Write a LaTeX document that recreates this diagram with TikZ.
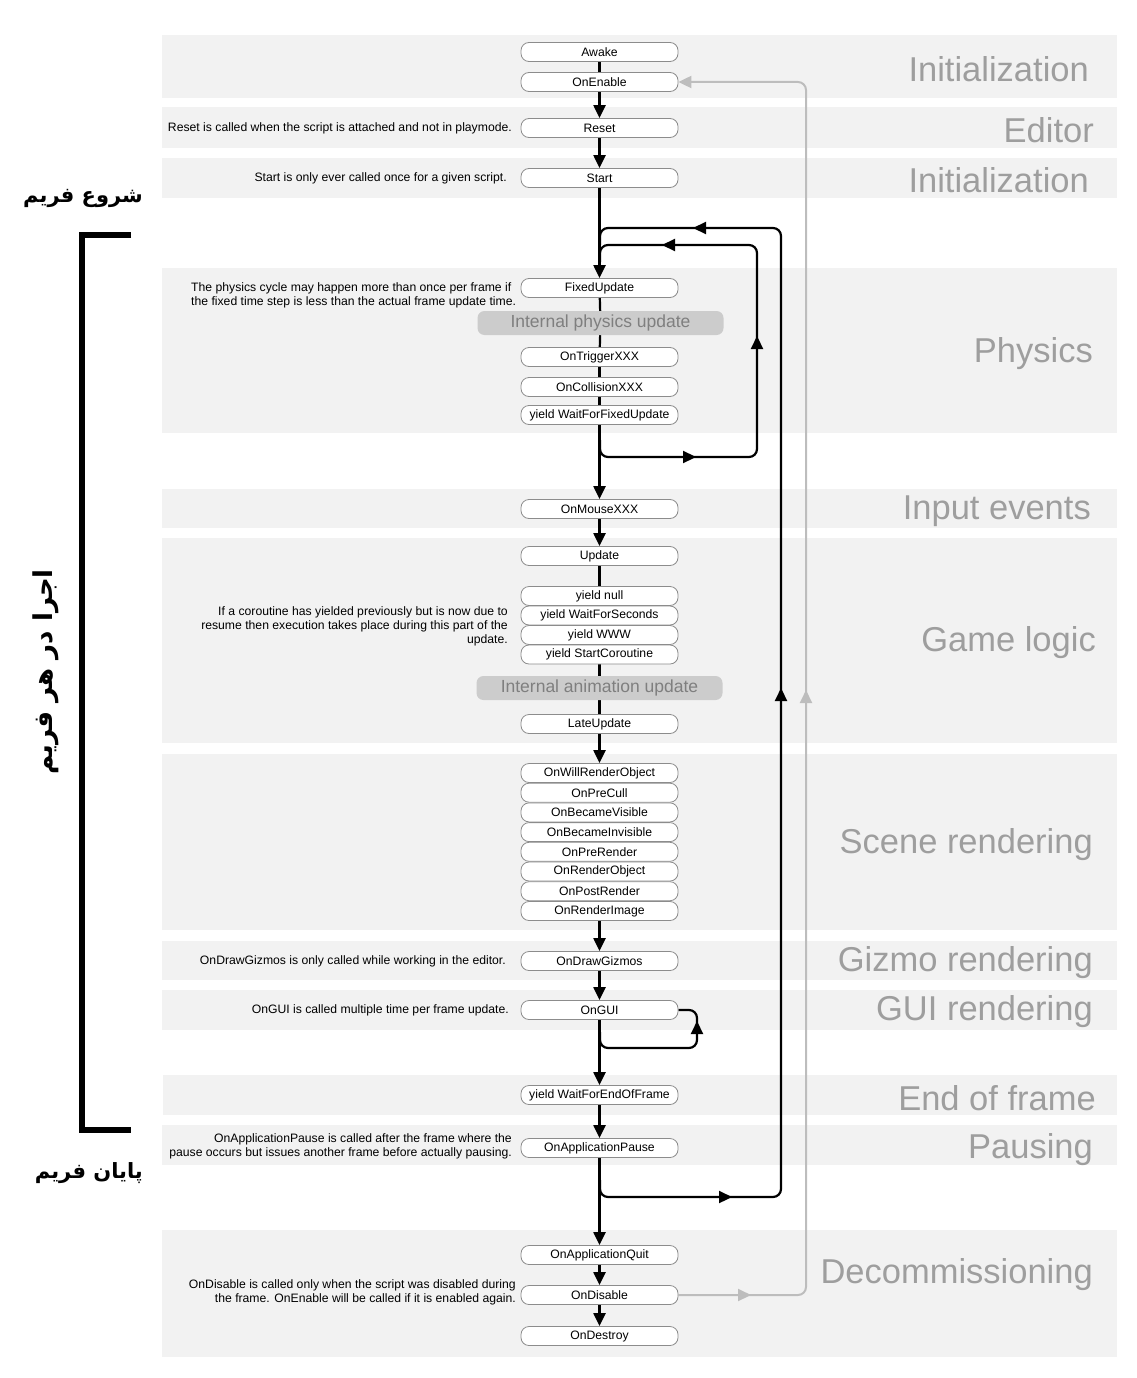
\documentclass[tikz,border=0pt]{standalone}
\usepackage{fontspec}
\setmainfont{Liberation Sans}
\newfontfamily\arabicfont[Script=Arabic]{DejaVu Sans}
\TeXXeTstate=1
\usetikzlibrary{arrows.meta}
\definecolor{bandgray}{HTML}{F2F2F2}
\definecolor{nodeborder}{HTML}{8C8C8C}
\definecolor{intgray}{HTML}{CCCCCC}
\definecolor{inttext}{HTML}{7F7F7F}
\definecolor{secttext}{HTML}{9E9E9E}
\definecolor{loopgray}{HTML}{BDBDBD}
\pgfdeclarelayer{bands}
\pgfdeclarelayer{bg}
\pgfsetlayers{bands,bg,main}
\begin{document}
\begin{tikzpicture}[x=1pt,y=-1pt,
  band/.style={fill=bandgray, draw=none},
  fn/.style={draw=nodeborder, line width=0.8pt, fill=white, rounded corners=8pt, minimum width=157pt, minimum height=19pt, inner sep=0pt, font=\fontsize{12.2}{13}\selectfont},
  internal/.style={fill=intgray, rounded corners=7pt, minimum width=246pt, minimum height=24pt, inner sep=0pt, text=inttext, font=\fontsize{17.5}{20}\selectfont},
  sect/.style={anchor=east, text=secttext, font=\fontsize{34.5}{38}\selectfont, inner sep=0pt},
  note/.style={anchor=east, align=right, font=\fontsize{12.2}{14}\selectfont, inner sep=0pt},
  notel/.style={anchor=west, align=left, font=\fontsize{12.2}{14}\selectfont, inner sep=0pt},
  persian/.style={inner sep=0pt, font=\fontsize{21}{26}\selectfont},
  persianv/.style={inner sep=0pt, font=\fontsize{26}{30}\selectfont},
  flow/.style={line width=2.2pt, black},
  arr/.style={flow, -{Triangle[length=13pt,width=12pt]}},
  gflow/.style={line width=2pt, loopgray},
  garr/.style={gflow, -{Triangle[length=13pt,width=12pt]}},
  loopline/.style={flow, rounded corners=8pt},
  gloopline/.style={gflow, rounded corners=8pt}
]
\useasboundingbox (0,0) rectangle (1137,1378);

% ---------- bands ----------
\begin{pgfonlayer}{bands}
\fill[band] (162,35) rectangle (1117,98);
\fill[band] (162,107) rectangle (1117,148);
\fill[band] (162,158) rectangle (1117,198);
\fill[band] (162,268) rectangle (1117,433);
\fill[band] (162,489) rectangle (1117,528);
\fill[band] (162,538) rectangle (1117,743);
\fill[band] (162,754) rectangle (1117,930);
\fill[band] (162,941) rectangle (1117,980);
\fill[band] (162,990) rectangle (1117,1030);
\fill[band] (163,1075) rectangle (1117,1115);
\fill[band] (162,1125) rectangle (1117,1165);
\fill[band] (162,1230) rectangle (1117,1357);
\end{pgfonlayer}

% ---------- section labels ----------
\node[sect] (s1) at (1089,69) {Initialization};
\node[sect] (s2) at (1094,130) {Editor};
\node[sect] (s3) at (1089,180) {Initialization};
\node[sect] (s4) at (1093,354) {Physics};
\node[sect] (s5) at (1091,511) {Input events};
\node[sect] (s6) at (1096,643) {Game logic};
\node[sect] (s7) at (1093,845) {Scene rendering};
\node[sect] (s8) at (1093,963) {Gizmo rendering};
\node[sect] (s9) at (1093,1012) {GUI rendering};
\node[sect] (s10) at (1096,1098) {End of frame};
\node[sect] (s11) at (1093,1150) {Pausing};
\node[sect] (s12) at (1093,1275) {Decommissioning};

% ---------- function nodes ----------
\node[fn] (awake) at (599.5,52) {Awake};
\node[fn] (onenable) at (599.5,82) {OnEnable};
\node[fn] (reset) at (599.5,128) {Reset};
\node[fn] (start) at (599.5,178) {Start};
\node[fn] (fixed) at (599.5,288) {FixedUpdate};
\node[internal] (iphys) at (600.5,323) {Internal physics update};
\node[fn] (trigger) at (599.5,357) {OnTriggerXXX};
\node[fn] (collision) at (599.5,387) {OnCollisionXXX};
\node[fn] (wffu) at (599.5,415) {yield WaitForFixedUpdate};
\node[fn] (mouse) at (599.5,509) {OnMouseXXX};
\node[fn] (update) at (599.5,556) {Update};
\node[fn] (ynull) at (599.5,596) {yield null};
\node[fn] (ywfs) at (599.5,615.5) {yield WaitForSeconds};
\node[fn] (ywww) at (599.5,635) {yield WWW};
\node[fn] (ysc) at (599.5,654.5) {yield StartCoroutine};
\node[internal] (ianim) at (599.5,688) {Internal animation update};
\node[fn] (late) at (599.5,724) {LateUpdate};
\node[fn] (r1) at (599.5,773) {OnWillRenderObject};
\node[fn] (r2) at (599.5,792.7) {OnPreCull};
\node[fn] (r3) at (599.5,812.4) {OnBecameVisible};
\node[fn] (r4) at (599.5,832.1) {OnBecameInvisible};
\node[fn] (r5) at (599.5,851.8) {OnPreRender};
\node[fn] (r6) at (599.5,871.5) {OnRenderObject};
\node[fn] (r7) at (599.5,891.2) {OnPostRender};
\node[fn] (r8) at (599.5,911) {OnRenderImage};
\node[fn] (gizmos) at (599.5,961) {OnDrawGizmos};
\node[fn] (gui) at (599.5,1010) {OnGUI};
\node[fn] (weof) at (599.5,1095) {yield WaitForEndOfFrame};
\node[fn] (pause) at (599.5,1148) {OnApplicationPause};
\node[fn] (quit) at (599.5,1255) {OnApplicationQuit};
\node[fn] (disable) at (599.5,1295) {OnDisable};
\node[fn] (destroy) at (599.5,1336) {OnDestroy};

% ---------- notes ----------
\node[note] (n1) at (512,128) {Reset is called when the script is attached and not in playmode.};
\node[note] (n2) at (507,178) {Start is only ever called once for a given script.};
\node[notel] (n3) at (191,295) {The physics cycle may happen more than once per frame if\\the fixed time step is less than the actual frame update time.};
\node[note] (n4) at (508,626) {If a coroutine has yielded previously but is now due to\\resume then execution takes place during this part of the\\update.};
\node[note] (n5) at (506,961) {OnDrawGizmos is only called while working in the editor.};
\node[note] (n6) at (509,1010) {OnGUI is called multiple time per frame update.};
\node[note] (n7) at (512,1146) {OnApplicationPause is called after the frame where the\\pause occurs but issues another frame before actually pausing.};
\node[note] (n8) at (516,1292) {OnDisable is called only when the script was disabled during\\the frame. OnEnable will be called if it is enabled again.};

% ---------- Persian labels and bracket ----------
\node[persian, anchor=east] (fstart) at (143,198) {\arabicfont\bfseries\beginR شروع فریم\endR};
\node[persian, anchor=east] (fend) at (143,1173) {\arabicfont\bfseries\beginR پایان فریم\endR};
\node[persianv, rotate=90] (fmid) at (46,672) {\arabicfont\bfseries\beginR اجرا در هر فریم\endR};
\coordinate (bt) at (131,235);
\coordinate (btl) at (82,235);
\coordinate (bbl) at (82,1130);
\coordinate (bb) at (131,1130);
\draw[line width=6pt, miter limit=10] (bt) -- (btl) -- (bbl) -- (bb);

% ---------- connectors ----------
\coordinate (pbrk) at (600,440);
\coordinate (pb) at (600,457);
\coordinate (pbr) at (757,457);
\coordinate (ptr) at (757,245);
\coordinate (ptl) at (600,245);
\coordinate (pdn) at (600,262);
\coordinate (pa1s) at (678,457);
\coordinate (pa1e) at (696,457);
\coordinate (pa2s) at (757,354);
\coordinate (pa2e) at (757,336);
\coordinate (pa3s) at (680,245);
\coordinate (pa3e) at (662,245);

\coordinate (obrk) at (600,1180);
\coordinate (ob) at (600,1197);
\coordinate (obr) at (781,1197);
\coordinate (otr) at (781,228);
\coordinate (otl) at (600,228);
\coordinate (odn) at (600,245);
\coordinate (oa1s) at (714,1197);
\coordinate (oa1e) at (732,1197);
\coordinate (oa2s) at (781,706);
\coordinate (oa2e) at (781,688);
\coordinate (oa3s) at (711,228);
\coordinate (oa3e) at (693,228);

\coordinate (gbrk) at (600,1032);
\coordinate (gb) at (600,1048);
\coordinate (gbr) at (697,1048);
\coordinate (gtr) at (697,1010);
\coordinate (ga1s) at (697,1037);
\coordinate (ga1e) at (697,1021);

\coordinate (dr) at (806,1295);
\coordinate (ur) at (806,82);
\coordinate (da1s) at (733,1295);
\coordinate (da1e) at (751,1295);
\coordinate (da2s) at (806,708);
\coordinate (da2e) at (806,690);

\begin{pgfonlayer}{bg}
% main chain
\draw[flow] (awake) -- (onenable);
\draw[arr] (onenable) -- (reset);
\draw[arr] (reset) -- (start);
\draw[arr] (start) -- (fixed);
\draw[flow] (fixed) -- (iphys);
\draw[flow] (iphys) -- (trigger);
\draw[flow] (trigger) -- (collision);
\draw[flow] (collision) -- (wffu);
\draw[arr] (wffu) -- (mouse);
\draw[arr] (mouse) -- (update);
\draw[flow] (update) -- (ynull);
\draw[flow] (ysc) -- (ianim);
\draw[flow] (ianim) -- (late);
\draw[arr] (late) -- (r1);
\draw[arr] (r8) -- (gizmos);
\draw[arr] (gizmos) -- (gui);
\draw[arr] (gui) -- (weof);
\draw[arr] (weof) -- (pause);
\draw[arr] (pause) -- (quit);
\draw[arr] (quit) -- (disable);
\draw[arr] (disable) -- (destroy);
% physics loop
\draw[loopline] (pbrk) -- (pb) -- (pbr) -- (ptr) -- (ptl) -- (pdn);
\draw[arr] (pa1s) -- (pa1e);
\draw[arr] (pa2s) -- (pa2e);
\draw[arr] (pa3s) -- (pa3e);
% frame loop
\draw[loopline] (obrk) -- (ob) -- (obr) -- (otr) -- (otl) -- (odn);
\draw[arr] (oa1s) -- (oa1e);
\draw[arr] (oa2s) -- (oa2e);
\draw[arr] (oa3s) -- (oa3e);
% GUI loop
\draw[loopline] (gbrk) -- (gb) -- (gbr) -- (gtr) -- (gui.east);
\draw[arr] (ga1s) -- (ga1e);
% disable/enable loop
\draw[gloopline, -{Triangle[length=13pt,width=12pt]}] (disable.east) -- (dr) -- (ur) -- (onenable.east);
\draw[garr] (da1s) -- (da1e);
\draw[garr] (da2s) -- (da2e);
\end{pgfonlayer}
\end{tikzpicture}
\end{document}
